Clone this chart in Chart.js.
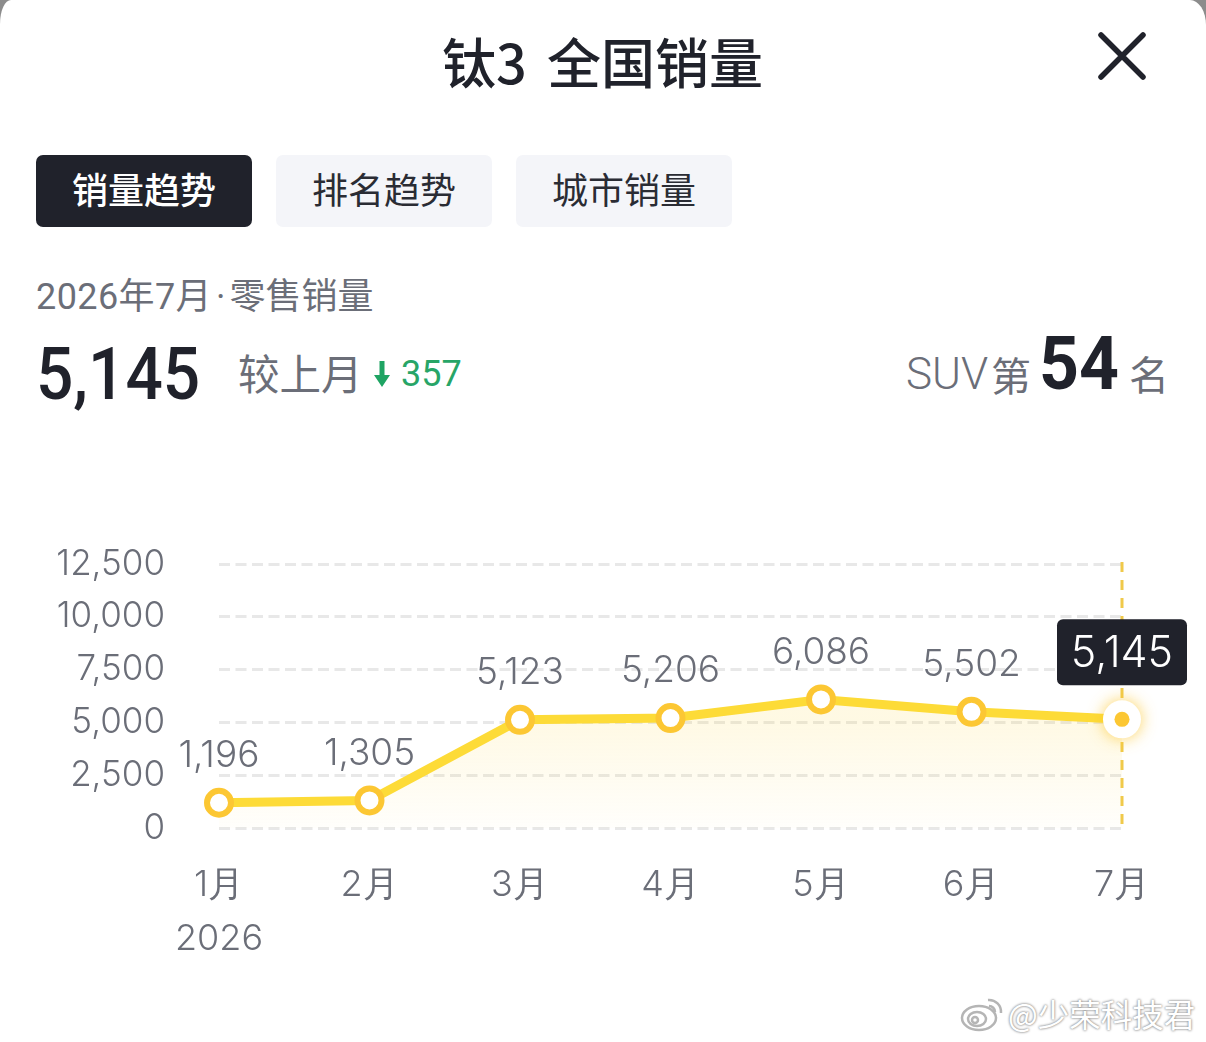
<!DOCTYPE html>
<html>
<head>
<meta charset="utf-8">
<script src="https://cdn.jsdelivr.net/npm/chart.js@4/dist/chart.umd.min.js"></script>
<style>
    html, body { margin: 0; padding: 0; background: #8c8c8c; }
    body { width: 1206px; height: 1042px; overflow: hidden; position: relative; }
    #card {
        position: absolute; left: 0; top: 0; width: 1206px; height: 1042px; background: #fff;
        border-top-left-radius: 11px 24px; border-top-right-radius: 16px 25px;
        font-family: "Noto Sans CJK SC", sans-serif; color: #20222b;
    }
    .t { position: absolute; white-space: nowrap; line-height: 1; }
    .grey { color: #6b6e78; }
    .tab { position: absolute; top: 155px; width: 216px; height: 72px; line-height: 66px; text-align: center;
        font-size: 36px; border-radius: 7px; background: #f4f5f9; color: #2a2c34; }
    .tab.on { background: #20222b; color: #fff; font-weight: 500; }
    .num { font-family: Roboto, sans-serif; }
    .narrow { transform: scaleX(0.93); transform-origin: left center; }
    #chartBox { position: absolute; left: 0; top: 520px; width: 1206px; height: 450px; }
    #mark { position: absolute; left: 1008px; top: 994px; font-size: 31.5px; line-height: 38px; color: #fff; white-space: nowrap;
        text-shadow: 0 0 2px #8a8a8a, 0 0 3px #9a9a9a; }
</style>
</head>
<body>
<div id="card">
    <div class="t" style="left:442px;top:34px;font-size:54px;font-weight:500;word-spacing:8px;">钛3 全国销量</div>
    <svg style="position:absolute;left:1094px;top:27px;" width="56" height="56">
        <path d="M7 8 L49 50 M49 8 L7 50" stroke="#20222b" stroke-width="5.5" stroke-linecap="round"/>
    </svg>

    <div class="tab on" style="left:36px;">销量趋势</div>
    <div class="tab" style="left:276px;">排名趋势</div>
    <div class="tab" style="left:516px;">城市销量</div>

    <div class="t grey" style="left:36px;top:279px;font-size:36px;font-family:Roboto,'Noto Sans CJK SC',sans-serif;"><span style="letter-spacing:0.4px;">2026年7月</span><span style="margin:0 4px;">·</span>零售销量</div>
    <div class="t num narrow" style="left:36px;top:338px;font-size:73px;font-weight:500;transform:scaleX(0.9);">5,145</div>
    <div class="t grey" style="left:238px;top:352px;font-size:41.5px;">较上月</div>
    <svg style="position:absolute;left:373px;top:360px;" width="18" height="28">
        <path d="M6.5 1 H11.5 V15 H17 L9 27 L1 15 H6.5 Z" fill="#1fa463"/>
    </svg>
    <div class="t num" style="left:401px;top:356px;font-size:36px;color:#27a567;">357</div>

    <div class="t grey num" style="left:906px;top:352px;font-size:44px;font-weight:300;">SUV</div>
    <div class="t grey" style="left:991px;top:354px;font-size:40px;">第</div>
    <div class="t num narrow" style="left:1039px;top:326px;font-size:75px;font-weight:700;">54</div>
    <div class="t grey" style="left:1129px;top:353px;font-size:40px;">名</div>

    <div id="chartBox"><canvas id="salesChart"></canvas></div>

    <svg style="position:absolute;left:960px;top:994px;" width="46" height="38" fill="none" stroke="#b5b5b5" stroke-width="2.5">
        <ellipse cx="19" cy="24" rx="17" ry="12" fill="#fff"/>
        <ellipse cx="17" cy="25" rx="9" ry="7"/>
        <circle cx="15" cy="26" r="3"/>
        <path d="M28 6 A12 12 0 0 1 41 19 M29 12 A6 6 0 0 1 35 18"/>
    </svg>
    <div id="mark">@少荣科技君</div>
</div>

<script>
var months = ["1月", "2月", "3月", "4月", "5月", "6月", "7月"];
var yearLabel = "2026";
var sales = [1196, 1305, 5123, 5206, 6086, 5502, 5145];
var yTicks = [0, 2500, 5000, 7500, 10000, 12500];

var textFont = "Inter, Roboto, sans-serif";
var greyText = "#6b6e78";
var lastIndex = sales.length - 1;

function fmt(n) {
    return n.toLocaleString("en-US");
}

// value labels, the dashed marker and the tooltip box on the last month
var overlayPlugin = {
    id: "overlay",
    beforeDatasetsDraw: function (chart) {
        var ctx = chart.ctx;
        var area = chart.chartArea;
        var p = chart.getDatasetMeta(0).data[lastIndex];
        ctx.save();
        ctx.strokeStyle = "#f0c94a";
        ctx.lineWidth = 3;
        ctx.setLineDash([10, 8]);
        ctx.beginPath();
        ctx.moveTo(p.x, area.top - 2);
        ctx.lineTo(p.x, area.bottom);
        ctx.stroke();
        ctx.restore();
    },
    afterDatasetsDraw: function (chart) {
        var ctx = chart.ctx;
        var points = chart.getDatasetMeta(0).data;
        ctx.save();
        ctx.font = "300 37px " + textFont;
        ctx.fillStyle = greyText;
        ctx.textAlign = "center";
        ctx.textBaseline = "middle";
        for (var i = 0; i < lastIndex; i++) {
            ctx.fillText(fmt(sales[i]), points[i].x, points[i].y - 47);
        }

        var p = points[lastIndex];
        ctx.save();
        ctx.shadowColor = "rgba(252, 199, 47, 0.8)";
        ctx.shadowBlur = 16;
        ctx.fillStyle = "#fff";
        ctx.beginPath();
        ctx.arc(p.x, p.y, 19, 0, Math.PI * 2);
        ctx.fill();
        ctx.restore();
        ctx.fillStyle = "#fcc733";
        ctx.beginPath();
        ctx.arc(p.x, p.y, 7.5, 0, Math.PI * 2);
        ctx.fill();

        ctx.fillStyle = "#20222b";
        ctx.beginPath();
        ctx.roundRect(p.x - 65, p.y - 100, 130, 66, 6);
        ctx.fill();
        ctx.fillStyle = "#fff";
        ctx.font = "300 43px " + textFont;
        ctx.fillText(fmt(sales[lastIndex]), p.x, p.y - 65);
        ctx.restore();
    }
};

new Chart("salesChart", {
    type: "line",
    data: {
        labels: months,
        datasets: [{
            data: sales,
            borderColor: "#fddb37",
            borderWidth: 9,
            tension: 0,
            fill: "origin",
            backgroundColor: function (context) {
                var area = context.chart.chartArea;
                if (!area) return "rgba(253, 219, 55, 0.1)";
                var y = context.chart.scales.y;
                var g = context.chart.ctx.createLinearGradient(0, y.getPixelForValue(5200), 0, area.bottom);
                g.addColorStop(0, "rgba(253, 215, 70, 0.15)");
                g.addColorStop(1, "rgba(253, 215, 70, 0.02)");
                return g;
            },
            pointBackgroundColor: "#fff",
            pointBorderColor: "#fcc733",
            pointBorderWidth: 6,
            pointRadius: function (c) { return c.dataIndex === lastIndex ? 0 : 12; },
            pointHoverRadius: function (c) { return c.dataIndex === lastIndex ? 0 : 12; }
        }]
    },
    options: {
        responsive: true,
        maintainAspectRatio: false,
        animation: false,
        events: [],
        clip: false,
        layout: { padding: { left: 0, right: 84, top: 44, bottom: 0 } },
        plugins: { legend: { display: false }, tooltip: { enabled: false } },
        scales: {
            x: {
                offset: false,
                border: { display: false },
                grid: { display: false },
                afterFit: function (scale) { scale.height = 142; },
                ticks: {
                    padding: 22,
                    maxRotation: 0,
                    autoSkip: false,
                    color: greyText,
                    font: { family: textFont, size: 36, weight: "300", lineHeight: 1.5 },
                    callback: function (value, index) {
                        return index === 0 ? [months[index], yearLabel] : months[index];
                    }
                }
            },
            y: {
                min: yTicks[0],
                max: yTicks[yTicks.length - 1],
                border: { display: false, dash: [11, 5.5] },
                grid: { color: "#e8e8e8", lineWidth: 3, drawTicks: false },
                afterFit: function (scale) {
                    scale.width = 219;
                    // tick padding would otherwise push the plot top down
                    scale.paddingTop = 0;
                    scale.paddingBottom = 0;
                },
                afterBuildTicks: function (scale) {
                    scale.ticks = yTicks.map(function (v) { return { value: v }; });
                },
                ticks: {
                    padding: 54,
                    color: greyText,
                    font: { family: textFont, size: 35, weight: "300" },
                    callback: function (value) { return fmt(value); }
                }
            }
        }
    },
    plugins: [overlayPlugin]
});
</script>
</body>
</html>
